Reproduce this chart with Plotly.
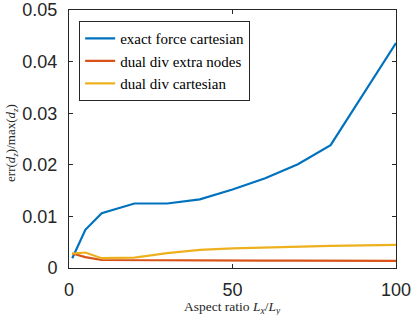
import plotly.graph_objects as go

aspect = [1, 5, 10, 20, 30, 40, 50, 60, 70, 80, 100]
exact_force_cartesian = [0.0019, 0.0074, 0.0106, 0.0125, 0.0125, 0.0133, 0.0152, 0.0174, 0.0201, 0.0238, 0.0436]
dual_div_extra_nodes = [0.0028, 0.0021, 0.00155, 0.0015, 0.00148, 0.00145, 0.00143, 0.00142, 0.00141, 0.0014, 0.0014]
dual_div_cartesian = [0.0028, 0.0030, 0.0019, 0.0020, 0.0029, 0.0035, 0.0038, 0.0040, 0.0042, 0.0043, 0.0045]

names = ["exact force cartesian", "dual div extra nodes", "dual div cartesian"]
colors = ["#0072BD", "#D95319", "#EDB120"]
x_title = "Aspect ratio <i>L<sub>x</sub></i>/<i>L<sub>y</sub></i>"
y_title = "err(<i>d</i><sub><i>z</i></sub>)/max(<i>d</i><sub><i>z</i></sub>)"

SERIF = "Times New Roman, Liberation Serif, serif"
SANS = "Liberation Sans"

fig = go.Figure()
for name, ys, c in zip(names, [exact_force_cartesian, dual_div_extra_nodes, dual_div_cartesian], colors):
    fig.add_trace(go.Scatter(x=aspect, y=ys, mode="lines", name=name,
                             line=dict(color=c, width=2.2)))

axis_common = dict(showgrid=False, zeroline=False, showline=True, linecolor="#262626",
                   linewidth=1, mirror="ticks", ticks="inside", ticklen=4, tickcolor="#262626",
                   automargin=False,
                   tickfont=dict(family=SANS, size=18, color="#262626"))

fig.update_xaxes(range=[0, 100], tickvals=[0, 50, 100], ticklabelstandoff=5, **axis_common)
fig.update_yaxes(range=[0, 0.05], tickvals=[0, 0.01, 0.02, 0.03, 0.04, 0.05],
                 ticktext=["0", "0.01", "0.02", "0.03", "0.04", "0.05"], ticklabelstandoff=7,
                 **axis_common)

fig.add_annotation(text=x_title, xref="paper", yref="paper", x=0.5, y=-0.153,
                   xanchor="center", yanchor="middle", showarrow=False,
                   font=dict(family=SERIF, size=13.5, color="#262626"))
fig.add_annotation(text=y_title, xref="paper", yref="paper", x=-0.174, y=0.485,
                   xanchor="center", yanchor="middle", showarrow=False, textangle=-90,
                   font=dict(family=SERIF, size=13, color="#262626"))

fig.update_layout(
    width=415, height=315,
    margin=dict(l=69, r=19, t=10, b=47, autoexpand=False),
    plot_bgcolor="white", paper_bgcolor="white",
    font=dict(family=SERIF),
    legend=dict(x=0.031, y=0.957, xanchor="left", yanchor="top",
                bgcolor="white", bordercolor="#262626", borderwidth=1,
                font=dict(family=SERIF, size=15, color="#000000"),
                tracegroupgap=0, itemwidth=30),
    showlegend=True,
)

fig.write_html("out.html", config={"displayModeBar": False},
               post_script="document.body.style.margin='0px';document.body.style.padding='0px';")
